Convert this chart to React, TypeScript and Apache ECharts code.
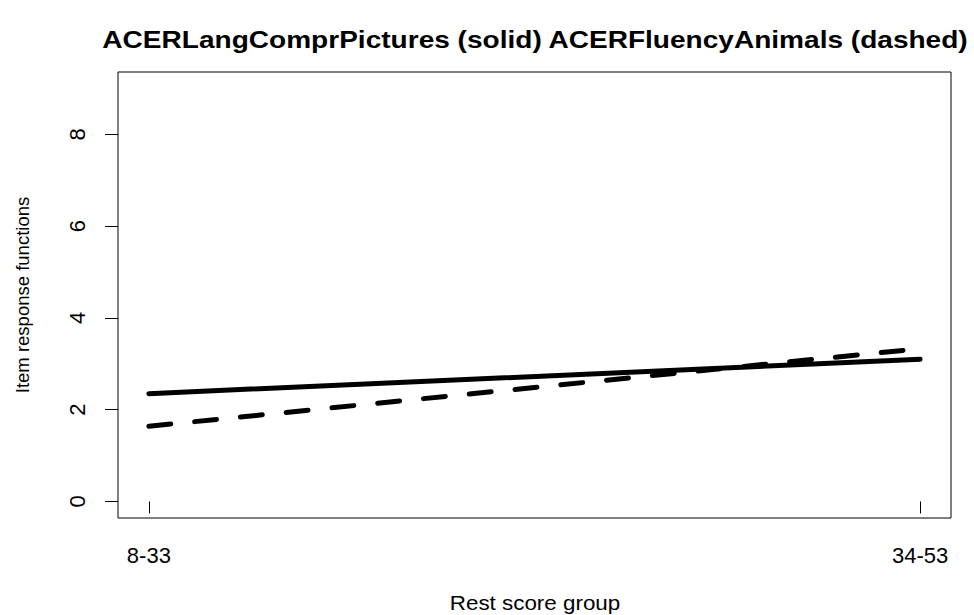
import React, { useEffect, useRef } from "react";
import * as echarts from "echarts";

const categories = ["8-33", "34-53"];
const solidValues = [2.35, 3.1];
const dashedValues = [1.64, 3.33];
const yTicks = [0, 2, 4, 6, 8];
const titleText = "ACERLangComprPictures (solid) ACERFluencyAnimals (dashed)";
const xAxisName = "Rest score group";
const yAxisName = "Item response functions";

export default function App() {
  const ref = useRef<HTMLDivElement>(null);
  useEffect(() => {
    if (!ref.current) return;
    const chart = echarts.init(ref.current, undefined, { renderer: "svg" });
    const xs = categories.map((_, i) => i + 1);
    const font = "'Liberation Sans', Arial, sans-serif";
    chart.setOption({
      animation: false,
      backgroundColor: "#fff",
      textStyle: { fontFamily: font, color: "#000" },
      graphic: [
        {
          type: "text",
          x: 535,
          y: 40,
          scaleX: 1.22,
          style: {
            text: titleText,
            font: `bold 23px ${font}`,
            fill: "#000",
            textAlign: "center",
            textVerticalAlign: "middle",
          },
        },
        {
          type: "text",
          x: 535,
          y: 603,
          scaleX: 1.12,
          style: {
            text: xAxisName,
            font: `20px ${font}`,
            fill: "#000",
            textAlign: "center",
            textVerticalAlign: "middle",
          },
        },
        {
          type: "text",
          x: 22,
          y: 295,
          rotation: Math.PI / 2,
          style: {
            text: yAxisName,
            font: `18.5px ${font}`,
            fill: "#000",
            textAlign: "center",
            textVerticalAlign: "middle",
          },
        },
      ],
      grid: {
        left: 118,
        right: 23,
        top: 72,
        bottom: 97,
        show: true,
        borderColor: "#000",
        borderWidth: 1,
        containLabel: false,
      },
      xAxis: {
        type: "value",
        min: 0.96,
        max: 2.04,
        axisLine: { show: false },
        splitLine: { show: false },
        axisTick: { show: true, length: 12, customValues: xs, lineStyle: { color: "#000" } },
        axisLabel: {
          customValues: xs,
          margin: 26,
          fontFamily: font,
          fontSize: 22,
          color: "#000",
          formatter: (v: number) => categories[Math.round(v) - 1] ?? "",
        },
      },
      yAxis: {
        type: "value",
        min: -0.36,
        max: 9.36,
        axisLine: { show: false },
        splitLine: { show: false },
        axisTick: { show: true, length: 13, customValues: yTicks, lineStyle: { color: "#000" } },
        axisLabel: {
          customValues: yTicks,
          rotate: 90,
          margin: 30,
          fontFamily: font,
          fontSize: 22,
          color: "#000",
        },
      },
      series: [
        {
          type: "line",
          data: xs.map((x, i) => [x, solidValues[i]]),
          symbol: "none",
          lineStyle: { color: "#000", width: 5, cap: "round" },
        },
        {
          type: "line",
          data: xs.map((x, i) => [x, dashedValues[i]]),
          symbol: "none",
          lineStyle: { color: "#000", width: 5, type: [22, 24], cap: "round" },
        },
      ],
    });
    return () => chart.dispose();
  }, []);
  return (
    <div
      ref={ref}
      style={{ position: "fixed", left: 0, top: 0, width: 974, height: 615 }}
    />
  );
}
